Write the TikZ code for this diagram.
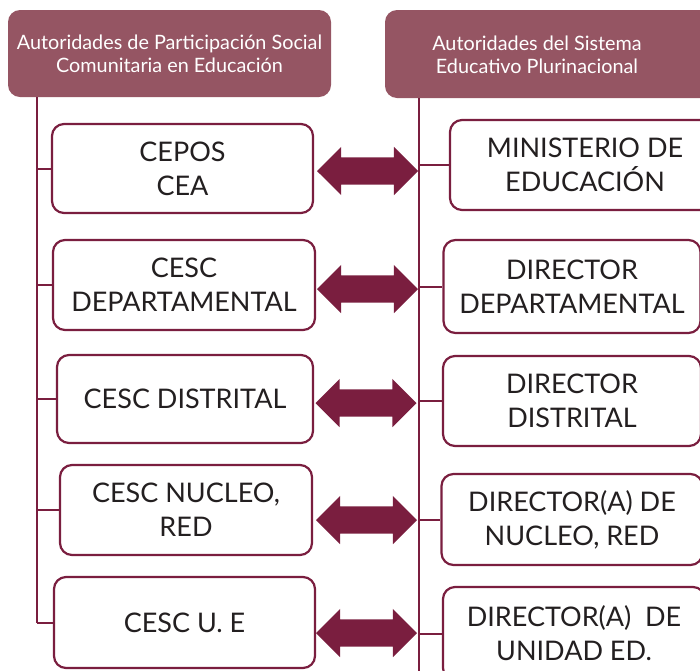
\documentclass[tikz,border=0pt]{standalone}
\usepackage{fontspec}
\setmainfont{Lato}
\usepackage{tikz}
\usetikzlibrary{shapes.arrows}
\definecolor{hdrfill}{HTML}{955563}
\definecolor{wine}{HTML}{7A1E3F}
\definecolor{ink}{HTML}{231F20}
\tikzset{
	header/.style={fill=hdrfill, text=white, rounded corners=12pt, align=center,
		font=\fontsize{19.8}{23}\selectfont, inner sep=0pt},
	levelbox/.style={draw=wine, line width=2.2pt, fill=white, rounded corners=12pt,
		align=center, text=ink, inner sep=0pt, font=\fontsize{27}{34}\selectfont},
	tie/.style={draw=wine, line width=2pt},
	link/.style={double arrow, fill=wine, draw=none, inner sep=13.5pt,
		minimum height=101pt, double arrow head extend=10.5pt,
		double arrow tip angle=90, double arrow head indent=0pt}
}

\begin{document}
\begin{tikzpicture}[x=1pt, y=-1pt]
\useasboundingbox (0,0) rectangle (700,670);
\clip (0,0) rectangle (700,670);

% column heads
\node[header, minimum width=323pt, minimum height=87pt] (lh) at (169.5,53.5)
	{Autoridades de Participación Social\\Comunitaria en Educación};
\fill[hdrfill, rounded corners=12pt] (385,10) rectangle (720,98);
\node[header, fill=none] (rh) at (537,55)
	{Autoridades del Sistema\\Educativo Plurinacional};

% left column
\node[levelbox, minimum width=261pt, minimum height=89pt] (l1) at (182.5,168.5) {CEPOS\\CEA};
\node[levelbox, minimum width=262pt, minimum height=90pt] (l2) at (184,285) {CESC\\DEPARTAMENTAL};
\node[levelbox, minimum width=256pt, minimum height=88pt] (l3) at (185,399) {CESC DISTRITAL};
\node[levelbox, minimum width=252pt, minimum height=90pt] (l4) at (186,510) {CESC NUCLEO,\\RED};
\node[levelbox, minimum width=261pt, minimum height=91pt] (l5) at (184.5,622.5) {CESC U. E};

% right column
\node[levelbox, minimum width=270pt, minimum height=90pt] (r1) at (585,165) {MINISTERIO DE\\EDUCACIÓN};
\node[levelbox, minimum width=257pt, minimum height=93pt] (r2) at (572,286.5) {DIRECTOR\\DEPARTAMENTAL};
\node[levelbox, minimum width=258pt, minimum height=90pt] (r3) at (572,401) {DIRECTOR\\DISTRITAL};
\node[levelbox, minimum width=261pt, minimum height=91pt] (r4) at (572,519.5) {DIRECTOR(A) DE\\NUCLEO, RED};
\node[levelbox, minimum width=262pt, minimum height=93pt] (r5) at (574,633.5) {DIRECTOR(A)~~DE\\UNIDAD ED.};

% trunks
\coordinate (lt) at (37,97);
\coordinate (rt) at (419,98);
\draw[tie] (lt) -- (lt |- l5.west);
\draw[tie] (rt) -- (419,672);
\foreach \n in {1,...,5} {
	\draw[tie] (lt |- l\n.west) -- (l\n.west);
	\draw[tie] (rt |- r\n.west) -- (r\n.west);
}

% two-way links
\node[link] (a1) at (367.5,171) {};
\node[link] (a2) at (367.5,289) {};
\node[link] (a3) at (366,403) {};
\node[link] (a4) at (366.5,520) {};
\node[link] (a5) at (366.5,633) {};
\end{tikzpicture}
\end{document}
